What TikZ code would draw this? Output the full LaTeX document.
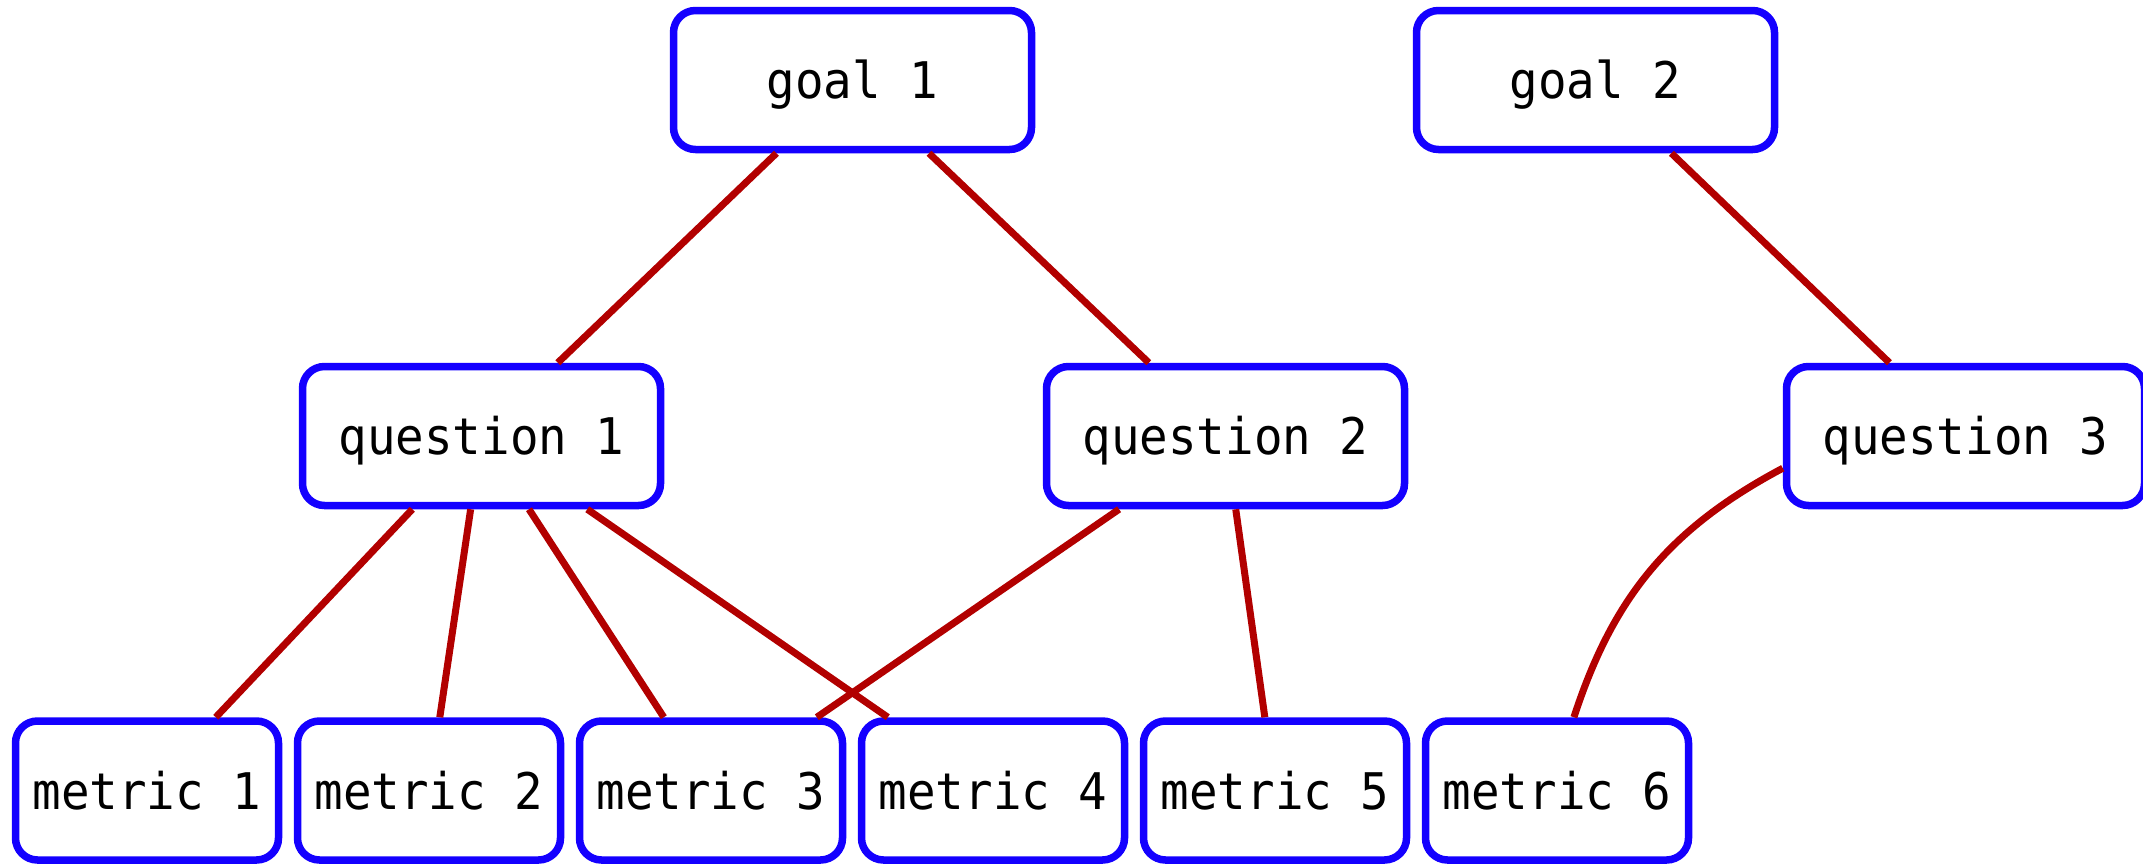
\documentclass[tikz,border=0pt]{standalone}
\usepackage{fontspec}
\newfontfamily\boxfont[FakeStretch=0.94]{DejaVu Sans Mono}
\definecolor{boxblue}{RGB}{20,0,255}
\definecolor{edgered}{RGB}{178,0,0}
\begin{document}
\begin{tikzpicture}[x=1pt,y=-1pt,
  box/.style={rectangle, draw=boxblue, line width=7.5pt, rounded corners=22pt,
    fill=white, inner sep=0pt, minimum height=139pt,
    font=\boxfont\fontsize{50.5pt}{60pt}\selectfont, text height=37pt, text depth=0pt},
  wide/.style={box, minimum width=358pt},
  narrow/.style={box, minimum width=263pt},
  edge/.style={draw=edgered, line width=7pt}]
\useasboundingbox (0,0) rectangle (2143,863);
\node[wide] (g1) at (852.5,80) {goal 1};
\node[wide] (g2) at (1595.5,80) {goal 2};
\node[wide] (q1) at (481.5,436) {question 1};
\node[wide] (q2) at (1225.5,436) {question 2};
\node[wide] (q3) at (1965.5,436) {question 3};
\node[narrow] (m1) at (147,790.5) {metric 1};
\node[narrow] (m2) at (429,790.5) {metric 2};
\node[narrow] (m3) at (711,790.5) {metric 3};
\node[narrow] (m4) at (993,790.5) {metric 4};
\node[narrow] (m5) at (1275,790.5) {metric 5};
\node[narrow] (m6) at (1557,790.5) {metric 6};
\draw[edge] (g1) -- (q1);
\draw[edge] (g1) -- (q2);
\draw[edge] (g2) -- (q3);
\draw[edge] (q1) -- (m1);
\draw[edge] (q1) -- (m2);
\draw[edge] (q1) -- (m3);
\draw[edge] (q1) -- (m4);
\draw[edge] (q2) -- (m3);
\draw[edge] (q2) -- (m5);
\draw[edge] (q3.190) to[out=208,in=72] (m6.77);
\end{tikzpicture}
\end{document}
